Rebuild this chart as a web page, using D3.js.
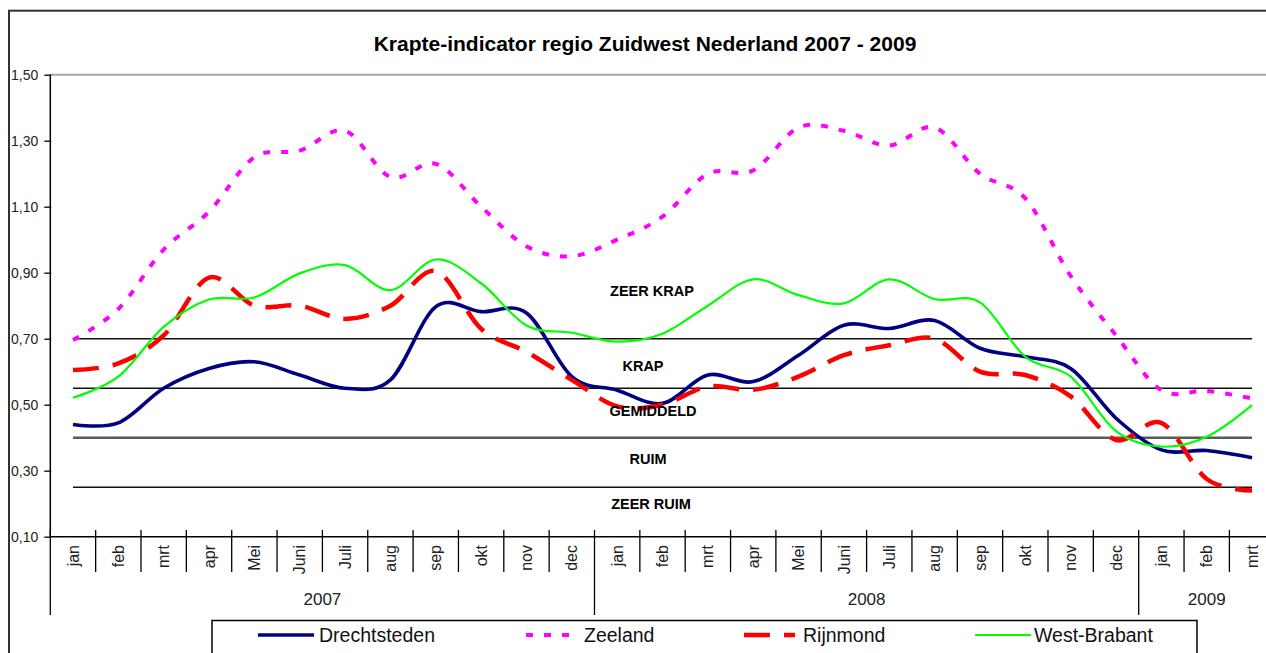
<!DOCTYPE html>
<html>
<head>
<meta charset="utf-8">
<script src="https://cdn.jsdelivr.net/npm/d3@7"></script>
<style>
  html, body { margin: 0; padding: 0; background: #fff; }
  svg { display: block; font-family: "Liberation Sans", Arial, sans-serif; }
</style>
</head>
<body>
<script>
// ---------------- DATA ----------------
const months = ["jan","feb","mrt","apr","Mei","Juni","Juli","aug","sep","okt","nov","dec",
                "jan","feb","mrt","apr","Mei","Juni","Juli","aug","sep","okt","nov","dec",
                "jan","feb","mrt"];
const yearLabels = ["2007", "2008", "2009"];
const yearMonthCounts = [12, 12, 3];

const seriesNames = ["Drechtsteden", "Zeeland", "Rijnmond", "West-Brabant"];
const drechtsteden = [0.440,0.445,0.550,0.610,0.630,0.590,0.550,0.575,0.797,0.782,0.778,0.585,
                      0.544,0.504,0.590,0.570,0.650,0.741,0.731,0.755,0.671,0.645,0.610,0.459,
                      0.363,0.361,0.339];
const zeeland      = [0.696,0.790,0.970,1.085,1.250,1.270,1.330,1.190,1.230,1.100,0.980,0.950,
                      1.000,1.070,1.200,1.210,1.340,1.330,1.285,1.340,1.200,1.125,0.890,0.710,
                      0.544,0.542,0.519];
const rijnmond     = [0.605,0.625,0.710,0.885,0.800,0.800,0.760,0.800,0.905,0.730,0.660,0.575,
                      0.495,0.500,0.555,0.545,0.585,0.650,0.680,0.700,0.600,0.590,0.525,0.393,
                      0.445,0.275,0.240];
const westBrabant  = [0.521,0.585,0.736,0.819,0.825,0.898,0.923,0.847,0.940,0.868,0.740,0.718,
                      0.691,0.715,0.800,0.880,0.832,0.807,0.880,0.820,0.810,0.645,0.585,0.420,
                      0.373,0.403,0.499];

const yTicks = [0.10, 0.30, 0.50, 0.70, 0.90, 1.10, 1.30, 1.50];
const thresholds = [0.70, 0.55, 0.40, 0.25];
const zoneLabels = ["ZEER KRAP", "KRAP", "GEMIDDELD", "RUIM", "ZEER RUIM"];
const zoneLabelValues = [0.845, 0.617, 0.481, 0.335, 0.199];

const title = "Krapte-indicator regio Zuidwest Nederland 2007 - 2009";

// ---------------- LAYOUT / STYLE ----------------
const W = 1266, H = 653;
const plotLeft = 50.3, bandW = 45.35;
const plotTop = 74.7, plotBottom = 536.7;

const seriesStyle = [
  { color: "#000080", width: 3.6, dash: null },
  { color: "#ff00ff", width: 4,   dash: "7,11" },
  { color: "#ff0000", width: 4.5, dash: "26,14" },
  { color: "#00ff00", width: 2.2, dash: null }
];
const thresholdStyle = [
  { color: "#111", width: 1.5 },
  { color: "#111", width: 1.5 },
  { color: "#5a5a5a", width: 2.5 },
  { color: "#111", width: 1.5 }
];
const zoneLabelX = [652, 643, 653, 648, 651];
const legendSampleX = [[258, 314], [526, 580], [744, 795], [975, 1031]];
const legendTextX = [319, 584, 803, 1034];

const allSeries = [drechtsteden, zeeland, rijnmond, westBrabant];

const svg = d3.select("body").append("svg")
  .attr("width", W).attr("height", H);

svg.append("rect").attr("width", W).attr("height", H).attr("fill", "#fff");

// outer chart border (cut off right/bottom)
svg.append("rect")
  .attr("x", 9).attr("y", 10.7).attr("width", 1400).attr("height", 800)
  .attr("fill", "none").attr("stroke", "#333").attr("stroke-width", 2);

// scales
const x = d3.scaleBand()
  .domain(d3.range(months.length))
  .range([plotLeft, plotLeft + bandW * months.length])
  .padding(0);
const cx = i => x(i) + x.bandwidth() / 2;
const y = d3.scaleLinear().domain([0.1, 1.5]).range([plotBottom, plotTop]);
const plotRight = plotLeft + bandW * months.length;

// title
svg.append("text")
  .attr("x", 645).attr("y", 51)
  .attr("text-anchor", "middle")
  .attr("font-weight", "bold")
  .attr("font-size", 21)
  .text(title);

// top gridline at 1.50
svg.append("line")
  .attr("x1", plotLeft).attr("x2", plotRight)
  .attr("y1", y(1.5)).attr("y2", y(1.5))
  .attr("stroke", "#a6a6a6").attr("stroke-width", 2);

// threshold lines
thresholds.forEach((t, k) => {
  svg.append("line")
    .attr("x1", cx(0)).attr("x2", cx(months.length - 1))
    .attr("y1", y(t)).attr("y2", y(t))
    .attr("stroke", thresholdStyle[k].color)
    .attr("stroke-width", thresholdStyle[k].width);
});

// y axis
const yAxis = d3.axisLeft(y)
  .tickValues(yTicks)
  .tickSize(6)
  .tickPadding(4)
  .tickFormat(d => d3.format(".2f")(d).replace(".", ","));
const gy = svg.append("g").attr("transform", `translate(${plotLeft},0)`).call(yAxis);
gy.select(".domain").remove();
gy.selectAll(".tick line").attr("stroke", "#000").attr("stroke-width", 1.3).attr("x2", -6).attr("x1", 1);
gy.selectAll(".tick text")
  .attr("font-size", 14)
  .attr("x", -12)
  .attr("font-family", "Liberation Sans, Arial, sans-serif")
  .attr("fill", "#222");
svg.append("line")
  .attr("x1", plotLeft).attr("x2", plotLeft)
  .attr("y1", plotTop).attr("y2", plotBottom)
  .attr("stroke", "#000").attr("stroke-width", 1.5);

// x axis line
svg.append("line")
  .attr("x1", plotLeft).attr("x2", plotRight)
  .attr("y1", plotBottom).attr("y2", plotBottom)
  .attr("stroke", "#000").attr("stroke-width", 1.5);

// category boundaries
const yearBoundaries = [0];
yearMonthCounts.reduce((acc, n) => { yearBoundaries.push(acc + n); return acc + n; }, 0);
for (let i = 0; i <= months.length; i++) {
  const bx = i < months.length ? x(i) : plotRight;
  const isYear = yearBoundaries.includes(i);
  svg.append("line")
    .attr("x1", bx).attr("x2", bx)
    .attr("y1", 530).attr("y2", isYear ? 615 : 572)
    .attr("stroke", "#000").attr("stroke-width", 1.3);
}

// month labels
months.forEach((m, i) => {
  svg.append("text")
    .attr("transform", `translate(${cx(i)},545) rotate(-90)`)
    .attr("text-anchor", "end")
    .attr("dy", "0.35em")
    .attr("font-size", 16)
    .attr("fill", "#222")
    .text(m);
});

// year labels
let start = 0;
yearLabels.forEach((yl, k) => {
  const a = x(start);
  const endIdx = start + yearMonthCounts[k];
  const b = endIdx < months.length ? x(endIdx) : plotRight;
  svg.append("text")
    .attr("x", (a + b) / 2).attr("y", 605)
    .attr("text-anchor", "middle")
    .attr("font-size", 17)
    .attr("fill", "#222")
    .text(yl);
  start = endIdx;
});

// series
const line = d3.line()
  .x((d, i) => cx(i))
  .y(d => y(d))
  .curve(d3.curveCardinal.tension(0));

allSeries.forEach((data, k) => {
  const st = seriesStyle[k];
  svg.append("path")
    .datum(data)
    .attr("d", line)
    .attr("fill", "none")
    .attr("stroke", st.color)
    .attr("stroke-width", st.width)
    .attr("stroke-dasharray", st.dash)
    .attr("stroke-linejoin", "round");
});

// zone labels
zoneLabels.forEach((lab, k) => {
  svg.append("text")
    .attr("x", zoneLabelX[k]).attr("y", y(zoneLabelValues[k]))
    .attr("dy", "0.35em")
    .attr("text-anchor", "middle")
    .attr("font-weight", "bold")
    .attr("font-size", 14.5)
    .text(lab);
});

// legend
svg.append("rect")
  .attr("x", 212).attr("y", 620.5).attr("width", 985).attr("height", 60)
  .attr("fill", "#fff").attr("stroke", "#000").attr("stroke-width", 1.5);
seriesNames.forEach((name, k) => {
  const st = seriesStyle[k];
  svg.append("line")
    .attr("x1", legendSampleX[k][0]).attr("x2", legendSampleX[k][1])
    .attr("y1", 635).attr("y2", 635)
    .attr("stroke", st.color)
    .attr("stroke-width", st.width)
    .attr("stroke-dasharray", st.dash);
  svg.append("text")
    .attr("x", legendTextX[k]).attr("y", 635)
    .attr("dy", "0.35em")
    .attr("font-size", 19.5)
    .attr("fill", "#111")
    .text(name);
});
</script>
</body>
</html>
